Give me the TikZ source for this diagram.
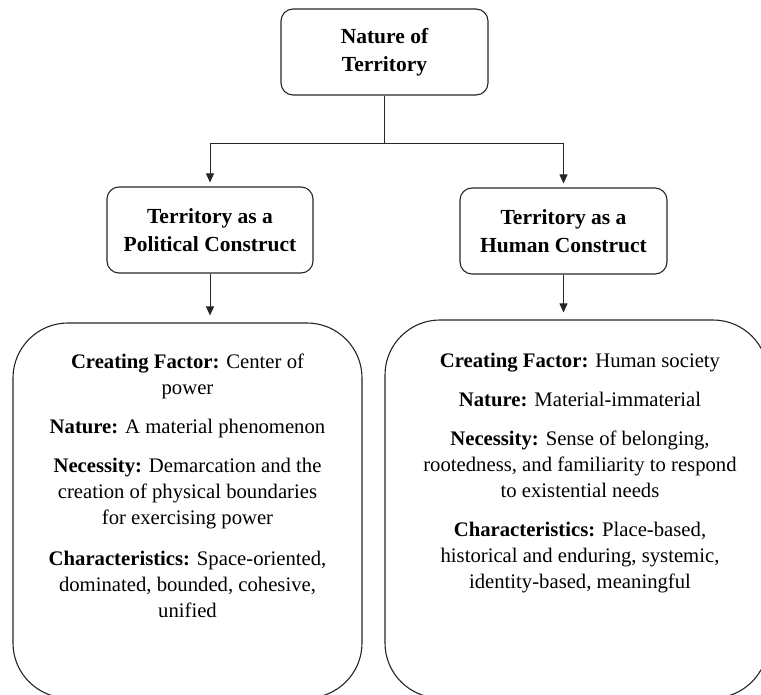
\documentclass[tikz,border=0pt]{standalone}
\usepackage{fontspec}
\setmainfont{Liberation Serif}
\usetikzlibrary{arrows.meta, positioning}
\definecolor{cline}{HTML}{262626}
\tikzset{
  every picture/.style={line width=1.1pt},
  box/.style={draw=cline, rounded corners=12pt, align=center, minimum width=207pt, minimum height=86pt, font=\fontsize{21.5}{28}\selectfont\bfseries},
  bigbox/.style={draw=cline, rounded corners=55pt},
  body/.style={align=center, inner sep=0pt, anchor=north, font=\fontsize{20.7}{26}\selectfont},
  arrow/.style={-{Triangle[length=9pt, width=8pt]}, draw=cline, line width=0.9pt},
}

\begin{document}
\begin{tikzpicture}[x=1pt, y=-1pt]
  \useasboundingbox (0,0) rectangle (761,695);
  \node[box] (top) at (384.5,52) {Nature of\\Territory};
  \node[box, minimum width=206pt] (pol) at (210,230) {Territory as a\\Political Construct};
  \node[box] (hum) at (563.5,231) {Territory as a\\Human Construct};
  \node[bigbox, minimum width=349pt, minimum height=375pt] (lbox) at (187.5,510.5) {};
  \node[bigbox, minimum width=383pt, minimum height=378pt] (rbox) at (576.5,509) {};
  \node[body] (ltext) at (187.5,353) {\textbf{Creating Factor:} Center of\\power\\[13pt]
    \textbf{Nature:} A material phenomenon\\[13pt]
    \textbf{Necessity:} Demarcation and the\\creation of physical boundaries\\for exercising power\\[15pt]
    \textbf{Characteristics:} Space-oriented,\\dominated, bounded, cohesive,\\unified};
  \node[body] (rtext) at (580,353) {\textbf{Creating Factor:} Human society\\[13pt]
    \textbf{Nature:} Material-immaterial\\[13pt]
    \textbf{Necessity:} Sense of belonging,\\rootedness, and familiarity to respond\\to existential needs\\[13pt]
    \textbf{Characteristics:} Place-based,\\historical and enduring, systemic,\\identity-based, meaningful};
  \coordinate (split) at (384.5,143);
  \draw[draw=cline, line width=0.9pt] (top) -- (split);
  \draw[arrow, shorten >=4pt] (split) -| (pol.north);
  \draw[arrow, shorten >=4pt] (split) -| (hum.north);
  \draw[arrow, shorten >=7pt] (pol.south) -- (pol.south |- lbox.north);
  \draw[arrow, shorten >=7pt] (hum.south) -- (hum.south |- rbox.north);
\end{tikzpicture}
\end{document}
